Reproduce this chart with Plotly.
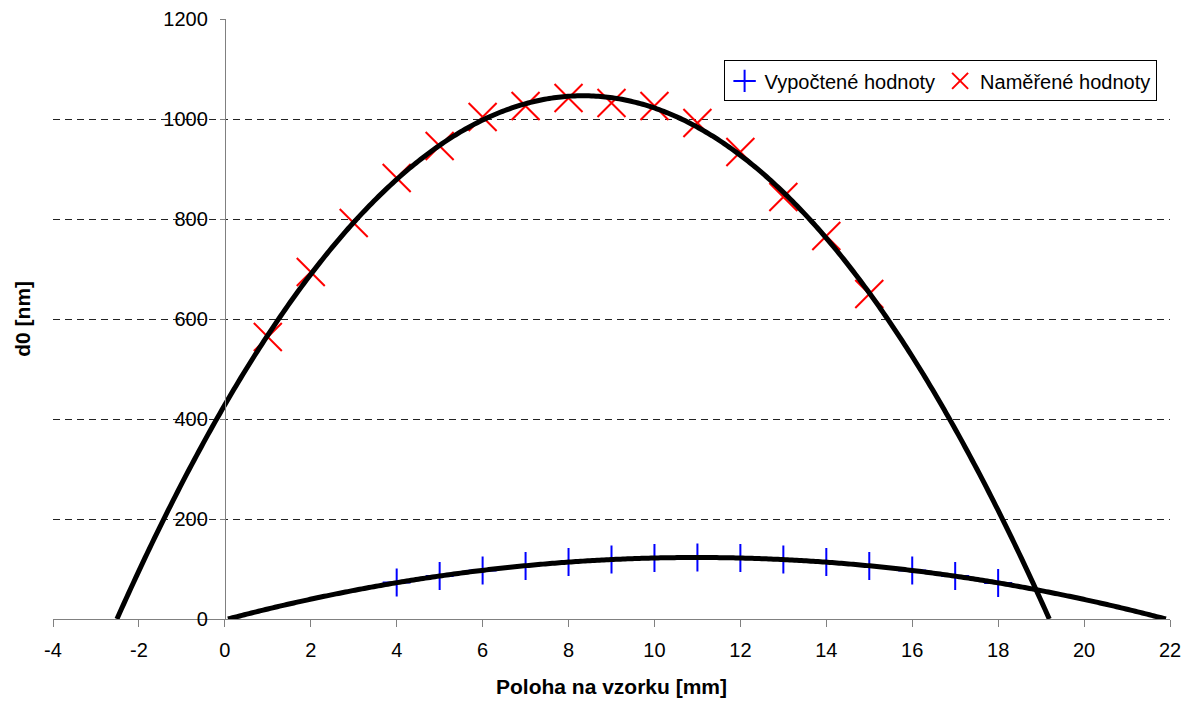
import numpy as np
import plotly.graph_objects as go

# Data
x_calc = [4, 5, 6, 7, 8, 9, 10, 11, 12, 13, 14, 15, 16, 17, 18]
y_calc = [73, 86, 97, 106, 114, 119, 122, 123, 122, 119, 114, 106, 97, 86, 72]

x_meas = [1, 2, 3, 4, 5, 6, 7, 8, 9, 10, 11, 12, 13, 14, 15]
y_meas = [564, 694, 792, 882, 946, 1004, 1026, 1042, 1032, 1026, 992, 934, 844, 766, 650]

x_ticks = list(range(-4, 23, 2))
y_ticks = list(range(0, 1201, 200))

FONT = "Liberation Sans, Arial, sans-serif"


def trend(xs, ys):
    # 2nd-order polynomial trendline (as in the original spreadsheet chart)
    c = np.polyfit(xs, ys, 2)
    r = np.sort(np.real(np.roots(c)))
    xx = np.linspace(max(r[0], -4), min(r[1], 22), 400)
    return xx, np.polyval(c, xx)


fig = go.Figure()

fig.add_trace(go.Scatter(
    x=x_calc, y=y_calc, mode="markers", name="Vypočtené hodnoty",
    marker=dict(symbol="cross-thin", size=20, color="#0000ff",
                line=dict(color="#0000ff", width=2)),
))
fig.add_trace(go.Scatter(
    x=x_meas, y=y_meas, mode="markers", name="Naměřené hodnoty",
    marker=dict(symbol="x-thin", size=28, color="#ff0000",
                line=dict(color="#ff0000", width=2)),
))

tx, ty = trend(x_calc, y_calc)
fig.add_trace(go.Scatter(x=tx, y=ty, mode="lines", showlegend=False,
                         line=dict(color="black", width=5, simplify=False),
                         hoverinfo="skip"))
tx, ty = trend(x_meas, y_meas)
fig.add_trace(go.Scatter(x=tx, y=ty, mode="lines", showlegend=False,
                         line=dict(color="black", width=5, simplify=False),
                         hoverinfo="skip"))

fig.update_layout(
    width=1190, height=704,
    margin=dict(l=53, r=20, t=19, b=85),
    paper_bgcolor="white", plot_bgcolor="white",
    font=dict(family=FONT, size=20, color="black"),
    xaxis=dict(
        range=[-4, 22], tickvals=x_ticks, ticktext=[str(v) for v in x_ticks],
        showgrid=False, zeroline=False, automargin=False,
        showline=True, linecolor="#808080", linewidth=1,
        ticks="outside", ticklen=7, tickcolor="#808080",
        ticklabelstandoff=6,
        tickfont=dict(family=FONT, size=20),
    ),
    yaxis=dict(
        range=[0, 1200], tickvals=y_ticks, ticktext=[str(v) for v in y_ticks],
        anchor="free", position=4 / 26, automargin=False,
        showgrid=True, gridcolor="#222222", gridwidth=1, griddash="7px,5px",
        zeroline=False,
        showline=True, linecolor="#808080", linewidth=1,
        ticks="outside", ticklen=5, tickcolor="#808080",
        ticklabelstandoff=8,
        tickfont=dict(family=FONT, size=20),
    ),
    legend=dict(
        orientation="h", x=0.988, y=0.931, xanchor="right", yanchor="top",
        bordercolor="black", borderwidth=1, bgcolor="white",
        font=dict(family=FONT, size=20), itemwidth=30, tracegroupgap=0,
    ),
    annotations=[
        dict(text="<b>d0 [nm]</b>", xref="paper", yref="paper",
             x=-0.028, y=0.5, xanchor="center", yanchor="middle",
             textangle=-90, showarrow=False, font=dict(family=FONT, size=21)),
        dict(text="<b>Poloha na vzorku [mm]</b>", xref="paper", yref="paper",
             x=0.5, y=(619 - 686) / 600, xanchor="center", yanchor="middle",
             showarrow=False, font=dict(family=FONT, size=21)),
    ],
)

fig.write_html("out.html")
